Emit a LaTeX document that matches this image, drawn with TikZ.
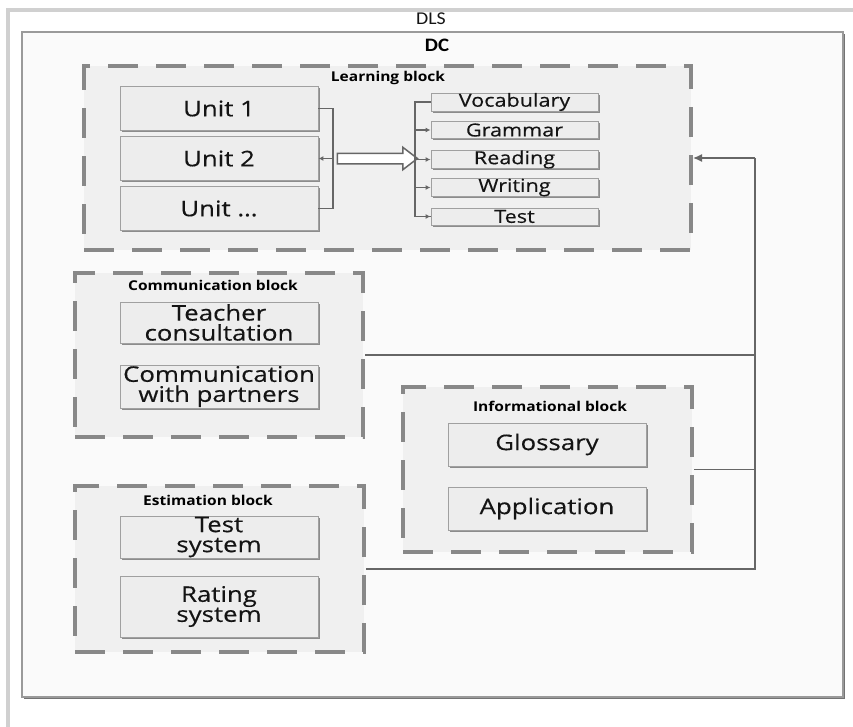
\documentclass[tikz,border=0pt]{standalone}
\usepackage{fontspec}
\setmainfont{Open Sans}[FakeStretch=1.2, FakeBold=0.35]
\newfontfamily\lblfont{Open Sans}[FakeStretch=1.15]
\newfontfamily\titlefont{Carlito}[FakeStretch=1.1]
\usetikzlibrary{shapes.arrows,shadows,arrows.meta}
\definecolor{blockfill}{HTML}{F0F0F0}
\definecolor{dashgray}{HTML}{888888}
\definecolor{itemfill}{HTML}{EDEDED}
\definecolor{itemline}{HTML}{A0A0A0}
\definecolor{conn}{HTML}{666666}
\definecolor{txt}{HTML}{141414}
\definecolor{framegray}{HTML}{9A9A9A}
\definecolor{outergray}{HTML}{D0D0D0}
\tikzset{
  blockbox/.style={draw=dashgray, line width=4pt, dash pattern=on 30pt off 18pt, fill=blockfill, inner sep=0pt},
  itembox/.style={draw=itemline, line width=0.9pt, fill=itemfill, drop shadow={shadow xshift=1.6pt, shadow yshift=-1.6pt, fill=black!45, opacity=1}, text=txt, align=center, inner sep=0pt},
  unitbox/.style={itembox, minimum width=198pt, minimum height=44pt, font=\fontsize{21.5}{22}\selectfont},
  skillbox/.style={itembox, minimum width=167pt, minimum height=17pt, font=\fontsize{18}{18}\selectfont},
  twobox/.style={itembox, minimum width=198pt, font=\fontsize{21.5}{20}\selectfont},
  lbl/.style={font=\lblfont\fontsize{13.5}{14}\selectfont\bfseries, text=black, inner sep=0pt},
  wire/.style={draw=conn, line width=1.4pt},
  thinwire/.style={draw=conn, line width=1.1pt},
  smallarr/.style={-{Latex[length=5pt,width=5pt]}},
}
\begin{document}
\begin{tikzpicture}[x=1pt,y=-1pt]
\useasboundingbox (0,0) rectangle (853,726);
\fill[white] (0,0) rectangle (853,726);
% outer DLS frame
\draw[outergray, line width=3.5pt] (8,740) -- (8,10) -- (870,10);
\node[font=\titlefont\fontsize{18}{20}\selectfont, text=txt] (dls) at (431,19) {DLS};
% DC frame
\draw[framegray, line width=2.8pt, fill=white!98!black, drop shadow={shadow xshift=1.5pt, shadow yshift=-2pt, fill=black!55, opacity=1}] (22,32) rectangle (843,697);
\node[font=\titlefont\fontsize{19}{20}\selectfont\bfseries, text=black] (dc) at (437,45) {DC};
% blocks
\node[blockbox, minimum width=607pt, minimum height=184pt] (learn) at (387.5,158) {};
\node[blockbox, minimum width=288pt, minimum height=164pt] (comm) at (219,355) {};
\node[blockbox, minimum width=289pt, minimum height=165pt] (info) at (547.5,469.5) {};
\node[blockbox, minimum width=289pt, minimum height=166pt] (est) at (219.5,569) {};
% block labels
\node[lbl] (learnlbl) at (388,78) {Learning block};
\node[lbl] (commlbl) at (213,285) {Communication block};
\node[lbl] (infolbl) at (550,406) {Informational block};
\node[lbl] (estlbl) at (208,500) {Estimation block};
% units
\node[unitbox] (u1) at (219,108.5) {Unit 1};
\node[unitbox] (u2) at (219,158.5) {Unit 2};
\node[unitbox] (un) at (219,208.5) {Unit \dots};
% skills
\node[skillbox] (voc) at (514.5,102) {Vocabulary};
\node[skillbox] (gram) at (514.5,130) {Grammar};
\node[skillbox] (read) at (514.5,159.5) {Reading};
\node[skillbox] (writ) at (514.5,187.5) {Writing};
\node[skillbox] (test) at (514.5,216.5) {Test};
% communication items
\node[twobox, minimum height=41pt] (teach) at (219,322.5) {Teacher\\consultation};
\node[twobox, minimum height=43pt] (partn) at (219,386.5) {Communication\\with partners};
% informational items
\node[twobox, minimum height=43pt] (gloss) at (547,444.5) {Glossary};
\node[twobox, minimum height=43pt] (appl) at (547,508.5) {Application};
% estimation items
\node[twobox, minimum height=42pt] (tsys) at (219,537) {Test\\system};
\node[twobox, minimum height=61pt] (rsys) at (219,606.5) {Rating\\system};
% unit bracket
\coordinate (bk) at (333,158.5);
\draw[thinwire] (u1.east) -| (bk) |- (un.east);
\draw[thinwire, smallarr] (bk) -- (u2.east);
% hollow arrow
\node[single arrow, draw=conn, fill=white, line width=1.5pt, minimum height=80pt, inner sep=4.5pt, single arrow head extend=6pt, single arrow tip angle=75] (bigarr) at (374,158.5) {};
% skills bracket
\coordinate (sk) at (415,102);
\draw[thinwire] (voc.west) -- (sk) |- (test.west);
\draw[thinwire, smallarr] (sk |- test.west) -- (test.west);
\draw[thinwire, smallarr] (sk |- gram.west) -- (gram.west);
\draw[thinwire, smallarr] (sk |- read.west) -- (read.west);
\draw[thinwire, smallarr] (sk |- writ.west) -- (writ.west);
% bus
\coordinate (bus) at (755,158);
\draw[wire] (est.east) -| (bus);
\draw[wire, -{Latex[length=9pt,width=8pt]}] (bus) -- (learn.east);
\draw[wire] (comm.east) -- (comm.east -| bus);
\draw[wire] (info.east) -- (info.east -| bus);
\end{tikzpicture}
\end{document}
